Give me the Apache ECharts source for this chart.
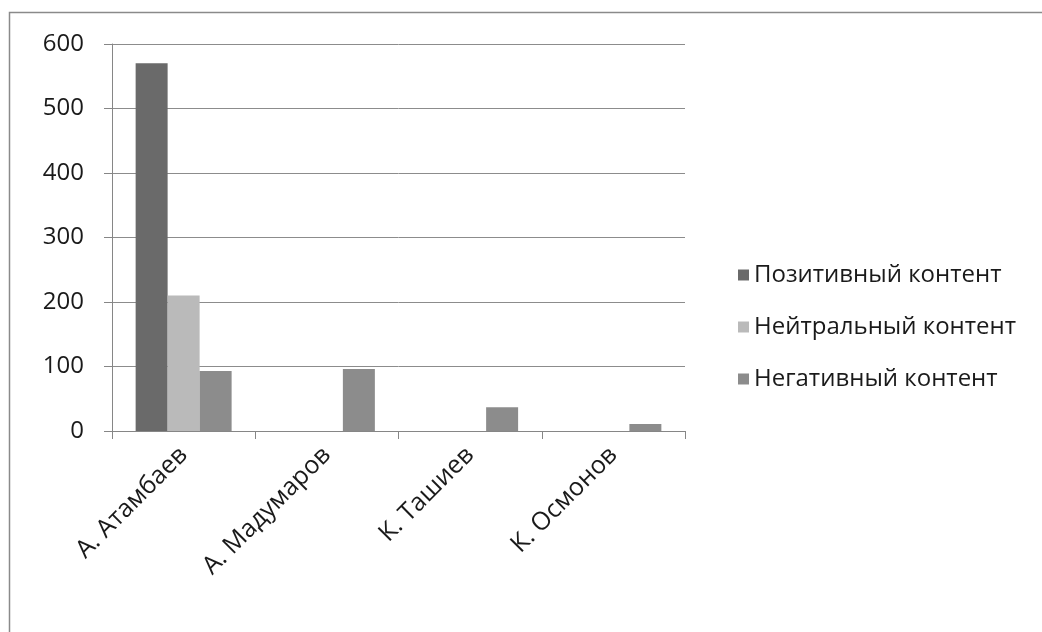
<!DOCTYPE html>
<html><head><meta charset="utf-8">
<script src="https://cdn.jsdelivr.net/npm/echarts@6/dist/echarts.min.js"></script>
<style>html,body{margin:0;padding:0;background:#fff}#c{width:1042px;height:632px}</style>
</head><body><div id="c"></div>
<script>
const categories = ['А. Атамбаев', 'А. Мадумаров', 'К. Ташиев', 'К. Осмонов'];
const seriesNames = ['Позитивный контент', 'Нейтральный контент', 'Негативный контент'];
const positive = [570, 0, 0, 0];
const neutral = [210, 0, 0, 0];
const negative = [93, 96, 37, 11];
const yTicks = [0, 100, 200, 300, 400, 500, 600];
const colors = ['#6a6a6a', '#bababa', '#8c8c8c'];
const FONT = 'Open Sans';

const chart = echarts.init(document.getElementById('c'));
const mk = (name, data, color) => ({
  name, type: 'bar', data, barGap: '0%', barCategoryGap: '33%',
  itemStyle: { color }, emphasis: { disabled: true }
});
chart.setOption({
  animation: false,
  textStyle: { fontFamily: FONT },
  graphic: [{
    type: 'rect', shape: { x: 9.5, y: 12.5, width: 1100, height: 700 },
    style: { fill: 'none', stroke: '#8a8a8a', lineWidth: 1.5 }, silent: true
  }],
  grid: { left: 112, right: 357, top: 44, bottom: 201, containLabel: false },
  legend: {
    orient: 'vertical', left: 733, top: 258, itemGap: 28,
    itemWidth: 11, itemHeight: 11, icon: 'rect',
    textStyle: { fontFamily: FONT, fontSize: 24, color: '#1a1a1a', padding: [0, 0, 0, 0] },
    data: seriesNames
  },
  xAxis: {
    type: 'category', data: categories,
    axisLine: { lineStyle: { color: '#868686', width: 1 } },
    axisTick: { show: true, length: 8, alignWithLabel: false, lineStyle: { color: '#868686' } },
    axisLabel: { rotate: 45, fontFamily: FONT, fontSize: 25, color: '#1a1a1a', margin: 20 }
  },
  yAxis: {
    type: 'value', min: yTicks[0], max: yTicks[yTicks.length - 1], interval: 100,
    axisLine: { show: true, lineStyle: { color: '#868686', width: 1 } },
    axisTick: { show: true, length: 8, inside: false, lineStyle: { color: '#868686' } },
    splitLine: { lineStyle: { color: '#8c8c8c', width: 1 } },
    axisLabel: { fontFamily: FONT, fontSize: 24, color: '#1a1a1a', margin: 28 }
  },
  series: [
    mk(seriesNames[0], positive, colors[0]),
    mk(seriesNames[1], neutral, colors[1]),
    mk(seriesNames[2], negative, colors[2])
  ]
});
</script></body></html>
